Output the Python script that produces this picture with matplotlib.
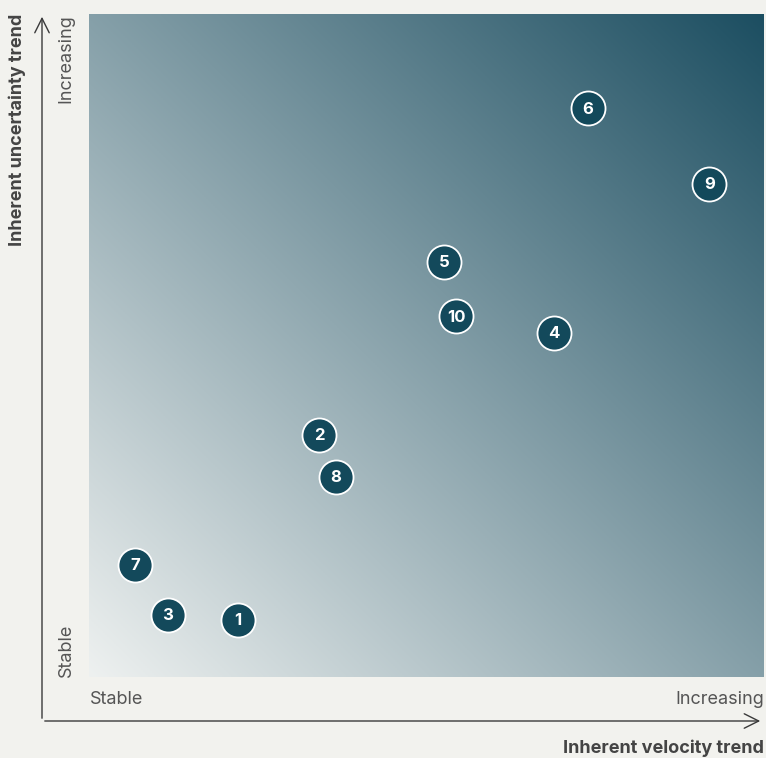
import numpy as np
import matplotlib.pyplot as plt

plt.rcParams['font.family'] = ['Inter', 'DejaVu Sans']

# risk items: id, velocity trend (x), uncertainty trend (y), 0-100 scale
labels = ["1", "2", "3", "4", "5", "6", "7", "8", "9", "10"]
velocity = [22.1, 34.1, 11.7, 68.9, 52.6, 73.9, 6.8, 36.6, 91.9, 54.4]
uncertainty = [8.6, 36.5, 9.4, 51.9, 62.6, 85.8, 16.9, 30.2, 74.4, 54.4]

bg = "#f2f2ee"
dot = "#13495b"
light = np.array([238, 241, 240]) / 255
dark = np.array([28, 78, 97]) / 255

fig = plt.figure(figsize=(7.66, 7.58), dpi=100, facecolor=bg)
ax = fig.add_axes([89 / 766, 81 / 758, 675 / 766, 663 / 758])

# diagonal gradient background
n = 300
gx, gy = np.meshgrid(np.linspace(0, 1, n), np.linspace(0, 1, n))
t = (gx + gy) / 2
img = light[None, None, :] * (1 - t[..., None]) + dark[None, None, :] * t[..., None]
ax.imshow(img, extent=[0, 100, 0, 100], origin="lower", aspect="auto", zorder=0)

ax.scatter(velocity, uncertainty, s=24.5 ** 2, color=dot, edgecolor="white",
           linewidth=1.3, zorder=3)
for lab, x, y in zip(labels, velocity, uncertainty):
    ax.text(x, y - 0.15, lab, color="white", fontsize=12, fontweight="bold",
            ha="center", va="center", zorder=4)

ax.set_xlim(0, 100)
ax.set_ylim(0, 100)
ax.set_xticks([])
ax.set_yticks([])
for s in ax.spines.values():
    s.set_visible(False)

# axis arrows
line_col = "#3a3a3a"
arrow = dict(arrowstyle="->", color=line_col, lw=1.0, mutation_scale=26)
ax.annotate("", xy=(42 / 766, 744 / 758), xytext=(42 / 766, 37 / 758),
            xycoords="figure fraction", arrowprops=arrow)
ax.annotate("", xy=(763 / 766, 37 / 758), xytext=(42 / 766, 37 / 758),
            xycoords="figure fraction", arrowprops=arrow)

tick_col = "#555555"
fig.text(90 / 766, 59 / 758, "Stable", fontsize=13, color=tick_col,
         ha="left", va="center")
fig.text(764 / 766, 59 / 758, "Increasing", fontsize=13, color=tick_col,
         ha="right", va="center")
fig.text(66 / 766, 81 / 758, "Stable", fontsize=13, color=tick_col,
         ha="center", va="bottom", rotation=90)
fig.text(66 / 766, 744 / 758, "Increasing", fontsize=13, color=tick_col,
         ha="center", va="top", rotation=90)

fig.text(764 / 766, 10 / 758, "Inherent velocity trend", fontsize=13,
         fontweight="bold", color="#444444", ha="right", va="center")
fig.text(17 / 766, 744 / 758, "Inherent uncertainty trend", fontsize=13,
         fontweight="bold", color="#444444", ha="center", va="top", rotation=90)

fig.savefig("out.png", dpi=100, facecolor=bg)
